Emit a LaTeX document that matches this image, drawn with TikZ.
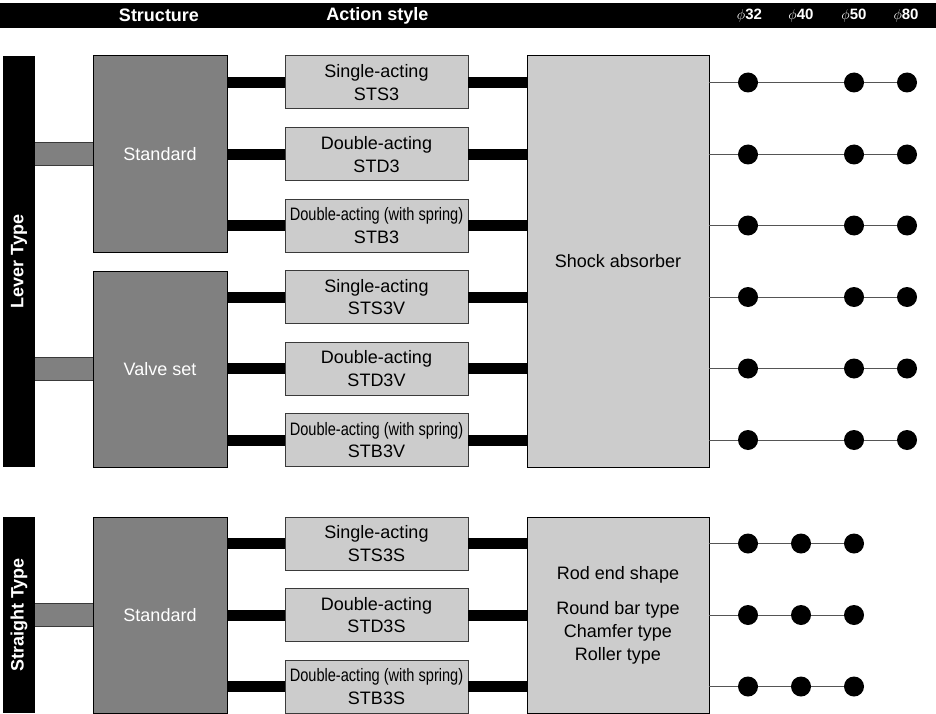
\documentclass[tikz,border=0pt]{standalone}
\usepackage{fontspec}
\setmainfont{Liberation Sans}
\usepackage{graphicx}
\definecolor{midgray}{HTML}{808080}
\definecolor{lightfill}{HTML}{CCCCCC}
\definecolor{boxedge}{HTML}{3A3A3A}
\definecolor{linegray}{HTML}{555555}
\begin{document}
\begin{tikzpicture}[x=1pt,y=-1pt,
  every node/.style={inner sep=0pt, outer sep=0pt},
  hdrbar/.style={fill=black, minimum width=936pt, minimum height=25pt, anchor=north west},
  hdrtext/.style={text=white, font=\fontsize{18}{22}\selectfont\bfseries},
  diatext/.style={text=white, font=\fontsize{15}{18}\selectfont\bfseries},
  sidebar/.style={fill=black, minimum width=32pt},
  sidetext/.style={text=white, rotate=90, font=\fontsize{18}{22}\selectfont\bfseries},
  structbox/.style={fill=midgray, draw=black, line width=1pt, minimum width=134pt, text=white, font=\fontsize{18}{22}\selectfont},
  actbox/.style={fill=lightfill, draw=boxedge, line width=1pt, minimum width=183pt, minimum height=53pt, align=center, font=\fontsize{18}{22.5}\selectfont},
  shockbox/.style={fill=lightfill, draw=black, line width=1pt, minimum width=182pt, align=center, font=\fontsize{18}{23}\selectfont},
  stubline/.style={draw=boxedge, line width=1pt, double=midgray, double distance=22pt},
  barline/.style={line width=11pt, draw=black},
  thinline/.style={line width=1pt, draw=linegray},
  dotnode/.style={circle, fill=black, minimum size=20pt}
]
\useasboundingbox (0,0) rectangle (936,714);

% header
\node[hdrbar] (hdr) at (0,3) {};
\node[hdrtext] (hstruct) at (159,15.5) {Structure};
\node[hdrtext] (haction) at (377.5,15.5) {Action style};
\node[diatext] (h32) at (749.5,16) {$\phi$32};
\node[diatext] (h40) at (801,16) {$\phi$40};
\node[diatext] (h50) at (854,16) {$\phi$50};
\node[diatext] (h80) at (906,16) {$\phi$80};

% side bars
\node[sidebar, minimum height=411pt] (lever) at (19,261.5) {};
\node[sidetext] (levert) at (19,261.5) {Lever Type};
\node[sidebar, minimum height=196pt] (straight) at (19,615) {};
\node[sidetext] (straightt) at (19,615) {Straight Type};

% structure boxes
\node[structbox, minimum height=196pt] (std1) at (160,154) {Standard};
\node[structbox, minimum height=196pt] (valve) at (160,369) {Valve set};
\node[structbox, minimum height=196pt] (std2) at (160,615) {Standard};

% stubs
\draw[stubline] (lever.east |- std1) -- (std1.west);
\draw[stubline] (lever.east |- valve) -- (valve.west);
\draw[stubline] (straight.east |- std2) -- (std2.west);

% action boxes
\node[actbox] (a1) at (376.5,82.5) {Single-acting\\STS3};
\node[actbox] (a2) at (376.5,154.5) {Double-acting\\STD3};
\node[actbox] (a3) at (376.5,225.5) {\scalebox{0.81}[1]{Double-acting (with spring)}\\STB3};
\node[actbox] (a4) at (376.5,297) {Single-acting\\STS3V};
\node[actbox] (a5) at (376.5,368.5) {Double-acting\\STD3V};
\node[actbox] (a6) at (376.5,440) {\scalebox{0.81}[1]{Double-acting (with spring)}\\STB3V};
\node[actbox] (b1) at (376.5,543.5) {Single-acting\\STS3S};
\node[actbox] (b2) at (376.5,615) {Double-acting\\STD3S};
\node[actbox] (b3) at (376.5,686.5) {\scalebox{0.81}[1]{Double-acting (with spring)}\\STB3S};

% shock absorber boxes
\node[shockbox, minimum height=411pt] (shock1) at (618,261.5) {Shock absorber};
\node[shockbox, minimum height=196pt] (shock2) at (618,615) {Rod end shape\\[12pt]Round bar type\\Chamfer type\\Roller type};

% black connectors
\foreach \a/\s in {a1/std1,a2/std1,a3/std1,a4/valve,a5/valve,a6/valve}{
  \draw[barline] (\a.west -| \s.east) -- (\a.west);
  \draw[barline] (\a.east) -- (\a.east -| shock1.west);
}
\foreach \a in {b1,b2,b3}{
  \draw[barline] (\a.west -| std2.east) -- (\a.west);
  \draw[barline] (\a.east) -- (\a.east -| shock2.west);
}

% size lines and dots (lever)
\foreach \a in {a1,a2,a3,a4,a5,a6}{
  \node[dotnode] (\a-d32) at (748,0 |- \a) {};
  \node[dotnode] (\a-d50) at (854,0 |- \a) {};
  \node[dotnode] (\a-d80) at (907,0 |- \a) {};
  \draw[thinline] (\a -| shock1.east) -- (\a-d32.west);
  \draw[thinline] (\a-d32.east) -- (\a-d50.west);
  \draw[thinline] (\a-d50.east) -- (\a-d80.west);
}
% straight
\foreach \a in {b1,b2,b3}{
  \node[dotnode] (\a-d32) at (748,0 |- \a) {};
  \node[dotnode] (\a-d40) at (801,0 |- \a) {};
  \node[dotnode] (\a-d50) at (854,0 |- \a) {};
  \draw[thinline] (\a -| shock2.east) -- (\a-d32.west);
  \draw[thinline] (\a-d32.east) -- (\a-d40.west);
  \draw[thinline] (\a-d40.east) -- (\a-d50.west);
}
\end{tikzpicture}
\end{document}
